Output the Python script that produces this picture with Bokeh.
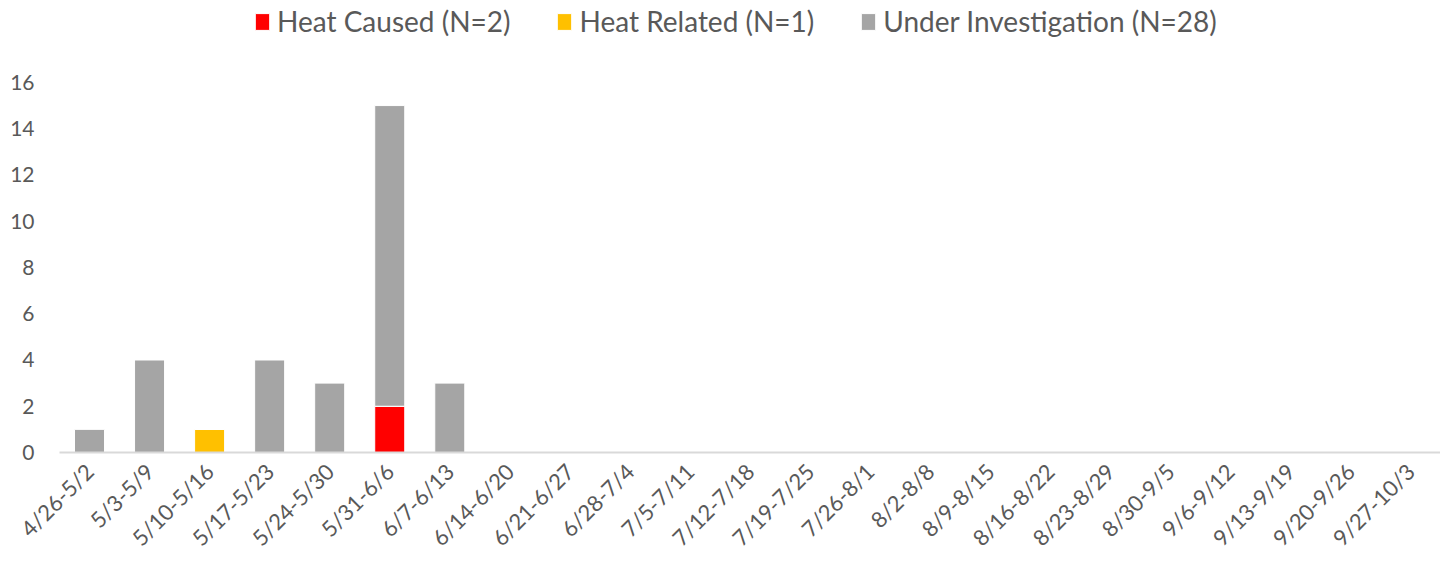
import math
from bokeh.plotting import figure
from bokeh.models import ColumnDataSource, Range1d, FixedTicker, Legend
from bokeh.embed import file_html
from bokeh.resources import INLINE

weeks = ["4/26-5/2", "5/3-5/9", "5/10-5/16", "5/17-5/23", "5/24-5/30", "5/31-6/6",
         "6/7-6/13", "6/14-6/20", "6/21-6/27", "6/28-7/4", "7/5-7/11", "7/12-7/18",
         "7/19-7/25", "7/26-8/1", "8/2-8/8", "8/9-8/15", "8/16-8/22", "8/23-8/29",
         "8/30-9/5", "9/6-9/12", "9/13-9/19", "9/20-9/26", "9/27-10/3"]
heat_caused = [0, 0, 0, 0, 0, 2, 0, 0, 0, 0, 0, 0, 0, 0, 0, 0, 0, 0, 0, 0, 0, 0, 0]
heat_related = [0, 0, 1, 0, 0, 0, 0, 0, 0, 0, 0, 0, 0, 0, 0, 0, 0, 0, 0, 0, 0, 0, 0]
under_investigation = [1, 4, 0, 4, 3, 13, 3, 0, 0, 0, 0, 0, 0, 0, 0, 0, 0, 0, 0, 0, 0, 0, 0]
y_ticks = [0, 2, 4, 6, 8, 10, 12, 14, 16]

series = ["heat_caused", "heat_related", "under_investigation"]
colors = ["#FF0000", "#FFC000", "#A5A5A5"]
labels = [f"Heat Caused (N={sum(heat_caused)})",
          f"Heat Related (N={sum(heat_related)})",
          f"Under Investigation (N={sum(under_investigation)})"]

x = list(range(len(weeks)))
source = ColumnDataSource(dict(x=x, heat_caused=heat_caused, heat_related=heat_related,
                               under_investigation=under_investigation))

FONT = "Lato"
TXT = "#595959"

p = figure(width=1440, height=566, output_backend="svg", toolbar_location=None,
           x_range=Range1d(-0.5, len(weeks) - 0.5), y_range=Range1d(0, 19.37),
           min_border_left=59, min_border_right=0, min_border_top=4, min_border_bottom=114)

renderers = p.vbar_stack(series, x="x", width=0.5, color=colors, line_color="white",
                         line_width=1, source=source)

p.outline_line_color = None
p.xgrid.grid_line_color = None
p.ygrid.grid_line_color = None

p.xaxis.ticker = FixedTicker(ticks=x)
p.xaxis.major_label_overrides = {i: w for i, w in enumerate(weeks)}
p.xaxis.major_label_orientation = math.pi / 4
p.xaxis.axis_line_color = "#D9D9D9"
p.xaxis.axis_line_width = 2
p.xaxis.major_tick_line_color = None
p.xaxis.major_tick_out = 0
p.xaxis.major_tick_in = 0
p.xaxis.minor_tick_line_color = None
p.xaxis.major_label_text_font = FONT
p.xaxis.major_label_text_font_size = "22px"
p.xaxis.major_label_text_color = TXT
p.xaxis.major_label_standoff = 15

p.yaxis.ticker = FixedTicker(ticks=y_ticks)
p.yaxis.axis_line_color = None
p.yaxis.major_tick_line_color = None
p.yaxis.major_tick_out = 0
p.yaxis.major_tick_in = 0
p.yaxis.minor_tick_line_color = None
p.yaxis.major_label_text_font = FONT
p.yaxis.major_label_text_font_size = "21px"
p.yaxis.major_label_text_color = TXT
p.yaxis.major_label_standoff = 25

legend = Legend(items=[(lab, [r]) for lab, r in zip(labels, renderers)],
                orientation="horizontal", location=(194, 414),
                border_line_color=None, background_fill_alpha=0,
                label_text_font=FONT, label_text_font_size="28px", label_text_color=TXT,
                glyph_width=18, glyph_height=21, label_standoff=6, spacing=45,
                padding=0, margin=0)
p.add_layout(legend, "center")

open("out.html", "w").write(file_html(p, INLINE))
